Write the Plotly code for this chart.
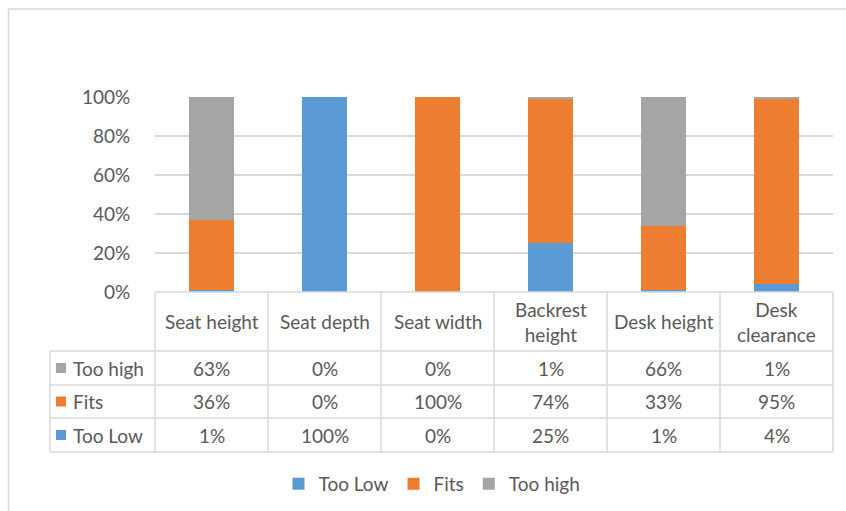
import plotly.graph_objects as go

categories = ["Seat height", "Seat depth", "Seat width", "Backrest<br>height", "Desk height", "Desk<br>clearance"]
series_names = ["Too Low", "Fits", "Too high"]
too_low = [1, 100, 0, 25, 1, 4]
fits = [36, 0, 100, 74, 33, 95]
too_high = [63, 0, 0, 1, 66, 1]
colors = ["#5B9BD5", "#ED7D31", "#A5A5A5"]
y_ticks = [0, 20, 40, 60, 80, 100]

W, H = 846, 511
FONT = "Lato"
FS = 19
TXT = "#595959"
LINE = "#D9D9D9"

def px(v):
    return v / W

def py(v):
    return 1 - v / H

x0p, x1p = 155, 833
n = len(categories)
colw = (x1p - x0p) / n

fig = go.Figure()
for name, vals, c in zip(series_names, [too_low, fits, too_high], colors):
    fig.add_trace(go.Bar(x=list(range(n)), y=vals, name=name, marker_color=c,
                         marker_line_width=0, width=0.4))

shapes = []
annotations = []
# outer border
shapes.append(dict(type="rect", xref="paper", yref="paper", x0=px(8.5), x1=1.05, y0=-0.05, y1=py(9),
                   line=dict(color=LINE, width=1.5), fillcolor="rgba(0,0,0,0)"))

rows_y = [292, 351, 385, 418, 452]
for i, yv in enumerate(rows_y):
    xs = x0p if i == 0 else 50
    shapes.append(dict(type="line", xref="paper", yref="paper", x0=px(xs), x1=px(x1p), y0=py(yv), y1=py(yv),
                       line=dict(color=LINE, width=1.5)))
for k in range(n + 1):
    xv = x0p + k * colw
    shapes.append(dict(type="line", xref="paper", yref="paper", x0=px(xv), x1=px(xv), y0=py(292), y1=py(452),
                       line=dict(color=LINE, width=1.5)))
shapes.append(dict(type="line", xref="paper", yref="paper", x0=px(50), x1=px(50), y0=py(351), y1=py(452),
                   line=dict(color=LINE, width=1.5)))

for k, cat in enumerate(categories):
    cx = x0p + (k + 0.5) * colw
    annotations.append(dict(x=px(cx), y=py((292 + 351) / 2), xref="paper", yref="paper", text=cat,
                            showarrow=False, font=dict(family=FONT, size=FS, color=TXT), xanchor="center",
                            yanchor="middle"))

table_rows = [("Too high", too_high, colors[2]), ("Fits", fits, colors[1]), ("Too Low", too_low, colors[0])]
for r, (name, vals, c) in enumerate(table_rows):
    cy = (rows_y[r + 1] + rows_y[r + 2]) / 2
    shapes.append(dict(type="rect", xref="paper", yref="paper", x0=px(56), x1=px(66), y0=py(cy + 5), y1=py(cy - 5),
                       fillcolor=c, line=dict(width=0)))
    annotations.append(dict(x=px(71), y=py(cy), xref="paper", yref="paper", text=name, showarrow=False,
                            font=dict(family=FONT, size=FS, color=TXT), xanchor="left", yanchor="middle"))
    for k, v in enumerate(vals):
        cx = x0p + (k + 0.5) * colw
        annotations.append(dict(x=px(cx), y=py(cy), xref="paper", yref="paper", text=f"{v}%", showarrow=False,
                                font=dict(family=FONT, size=FS, color=TXT), xanchor="center", yanchor="middle"))

fig.update_layout(
    width=W, height=H, margin=dict(l=0, r=0, t=0, b=0, autoexpand=False),
    paper_bgcolor="white", plot_bgcolor="white",
    barmode="stack", bargap=0.6,
    font=dict(family=FONT, size=FS, color=TXT),
    xaxis=dict(domain=[px(x0p), px(x1p)], range=[-0.5, n - 0.5], showticklabels=False, showgrid=False,
               zeroline=False, showline=False, ticks="", automargin=False),
    yaxis=dict(domain=[py(292), py(97)], range=[0, 100], tickmode="array", tickvals=y_ticks,
               ticktext=[f"{v}%" for v in y_ticks], automargin=False,
               showgrid=True, gridcolor=LINE, gridwidth=1.5, zeroline=False, showline=False,
               ticks="outside", ticklen=20, tickcolor="rgba(0,0,0,0)",
               tickfont=dict(family=FONT, size=FS, color=TXT)),
    legend=dict(orientation="h", x=px(432), xanchor="center", y=py(484), yanchor="middle",
                font=dict(family=FONT, size=FS, color=TXT), traceorder="normal", itemwidth=30),
    shapes=shapes, annotations=annotations,
)

fig.write_html("out.html")
